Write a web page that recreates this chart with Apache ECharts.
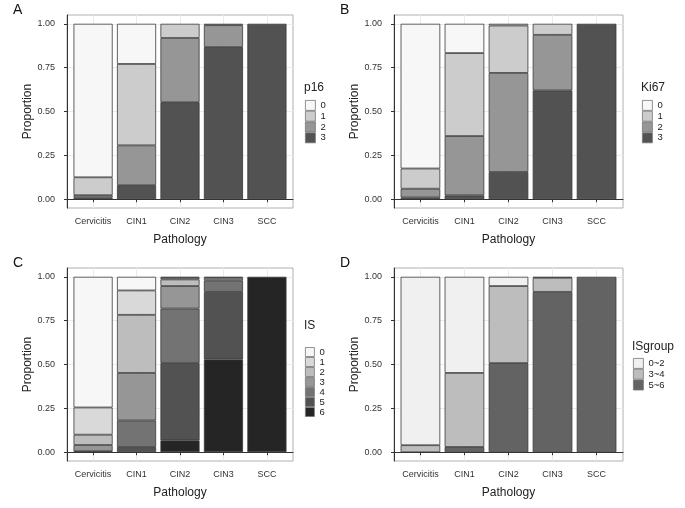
<!DOCTYPE html>
<html><head><meta charset="utf-8">
<script src="https://cdn.jsdelivr.net/npm/echarts@6/dist/echarts.min.js"></script>
<style>html,body{margin:0;padding:0;background:#fff}#c{width:685px;height:508px}</style>
</head><body><div id="c"></div>
<script>
const categories = ['Cervicitis', 'CIN1', 'CIN2', 'CIN3', 'SCC'];
const yTicks = [0, 0.25, 0.5, 0.75, 1];

// Panel A: p16
const p16Levels = ['0', '1', '2', '3'];
const p16_0 = [0.875, 0.229, 0, 0, 0];
const p16_1 = [0.102, 0.464, 0.081, 0.008, 0];
const p16_2 = [0.013, 0.227, 0.366, 0.125, 0];
const p16_3 = [0.010, 0.080, 0.553, 0.867, 1];

// Panel B: Ki67
const ki67Levels = ['0', '1', '2', '3'];
const ki67_0 = [0.825, 0.167, 0.010, 0, 0];
const ki67_1 = [0.115, 0.473, 0.270, 0.063, 0];
const ki67_2 = [0.050, 0.338, 0.565, 0.317, 0];
const ki67_3 = [0.010, 0.022, 0.155, 0.620, 1];

// Panel C: IS
const isLevels = ['0', '1', '2', '3', '4', '5', '6'];
const is_0 = [0.745, 0.078, 0.006, 0, 0];
const is_1 = [0.155, 0.139, 0.009, 0, 0];
const is_2 = [0.059, 0.331, 0.038, 0.006, 0];
const is_3 = [0.035, 0.271, 0.128, 0.015, 0];
const is_4 = [0.006, 0.151, 0.311, 0.065, 0];
const is_5 = [0, 0.030, 0.440, 0.385, 0];
const is_6 = [0, 0, 0.068, 0.529, 1];

// Panel D: ISgroup
const groupLevels = ['0~2', '3~4', '5~6'];
const group_0 = [0.960, 0.548, 0.053, 0.006, 0];
const group_1 = [0.040, 0.422, 0.439, 0.080, 0];
const group_2 = [0, 0.030, 0.508, 0.914, 1];

const panels = [
  {letter:'A', title:'p16', levels:p16Levels, values:[p16_0,p16_1,p16_2,p16_3],
   colors:['#f7f7f7','#cccccc','#969696','#525252'],
   grid:{left:67, top:15, width:226, height:193}, lx:305, ly:100, tx:304, ty:82, key:10},
  {letter:'B', title:'Ki67', levels:ki67Levels, values:[ki67_0,ki67_1,ki67_2,ki67_3],
   colors:['#f7f7f7','#cccccc','#969696','#525252'],
   grid:{left:394, top:15, width:229, height:193}, lx:642, ly:100, tx:641, ty:82, key:10},
  {letter:'C', title:'IS', levels:isLevels, values:[is_0,is_1,is_2,is_3,is_4,is_5,is_6],
   colors:['#f7f7f7','#d9d9d9','#bdbdbd','#969696','#737373','#525252','#252525'],
   grid:{left:67, top:268, width:226, height:193}, lx:305, ly:347, tx:304, ty:320, key:9},
  {letter:'D', title:'ISgroup', levels:groupLevels, values:[group_0,group_1,group_2],
   colors:['#f0f0f0','#bdbdbd','#636363'],
   grid:{left:394, top:268, width:229, height:193}, lx:633, ly:358, tx:632, ty:341, key:10}
];

const font = 'Liberation Sans, Arial, sans-serif';
const option = {
  backgroundColor:'#fff', animation:false,
  textStyle:{fontFamily:font},
  grid:[], xAxis:[], yAxis:[], series:[], legend:[], title:[]
};

panels.forEach((p, gi) => {
  option.grid.push(Object.assign({show:true, borderColor:'#b0b0b0', borderWidth:1, backgroundColor:'#fff'}, p.grid));
  option.xAxis.push({
    type:'value', gridIndex:gi, min:0.4, max:5.6,
    name:'Pathology', nameLocation:'middle', nameGap:26,
    nameTextStyle:{fontSize:12, color:'#222', fontFamily:font},
    axisLine:{show:true, lineStyle:{color:'#333', width:1}},
    axisTick:{show:true, length:3, lineStyle:{color:'#333'}, customValues:[1,2,3,4,5]},
    axisLabel:{customValues:[1,2,3,4,5], fontSize:9, color:'#333', margin:9, fontFamily:font,
      formatter:v => categories[Math.round(v)-1]},
    splitLine:{show:true, lineStyle:{color:'#ebebeb', width:1}}
  });
  option.yAxis.push({
    type:'value', gridIndex:gi, min:-0.05, max:1.05,
    name:'Proportion', nameLocation:'middle', nameGap:33,
    nameTextStyle:{fontSize:12, color:'#222', fontFamily:font},
    axisLine:{show:true, lineStyle:{color:'#333', width:1}},
    axisTick:{show:true, length:3, lineStyle:{color:'#333'}, customValues:yTicks},
    axisLabel:{customValues:yTicks, fontSize:9, color:'#333', margin:12, fontFamily:font,
      formatter:v => v.toFixed(2)},
    splitLine:{show:true, lineStyle:{color:'#ebebeb', width:1}}
  });
  const bw = 0.9 * p.grid.width / 5.2;
  // stack bottom-up: highest level first so level 0 ends on top
  for (let li = p.levels.length - 1; li >= 0; li--) {
    option.series.push({
      type:'bar', name:p.title + '|' + p.levels[li], xAxisIndex:gi, yAxisIndex:gi, stack:'s'+gi,
      barWidth:bw,
      dimensions:[{name:'v', type:'float'}, {name:'c', type:'float'}],
      encode:{x:'c', y:'v'},
      itemStyle:{color:p.colors[li], borderColor:'#3a3a3a', borderWidth:0.8},
      emphasis:{disabled:true},
      data:p.values[li].map((v, ci) => [v > 0 ? v : '-', ci+1])
    });
  }
  option.legend.push({
    left:p.lx, top:p.ly, orient:'vertical', padding:0, itemGap:0,
    itemWidth:p.key, itemHeight:p.key, icon:'rect', selectedMode:false,
    data:p.levels.map(n => ({name:p.title + '|' + n, itemStyle:{borderColor:'#777', borderWidth:0.8}})),
    formatter:name => name.split('|')[1],
    textStyle:{fontSize:9.5, color:'#222', lineHeight:p.key, fontFamily:font}
  });
  option.title.push({text:p.letter, left:p.grid.left - 54, top:p.grid.top - 12, padding:0,
    textStyle:{fontSize:14, fontWeight:'normal', color:'#111', fontFamily:font}});
  option.title.push({text:p.title, left:p.tx, top:p.ty, padding:0,
    textStyle:{fontSize:12, fontWeight:'normal', color:'#222', fontFamily:font}});
});

const chart = echarts.init(document.getElementById('c'), null, {renderer:'canvas'});
chart.setOption(option);
</script></body></html>
